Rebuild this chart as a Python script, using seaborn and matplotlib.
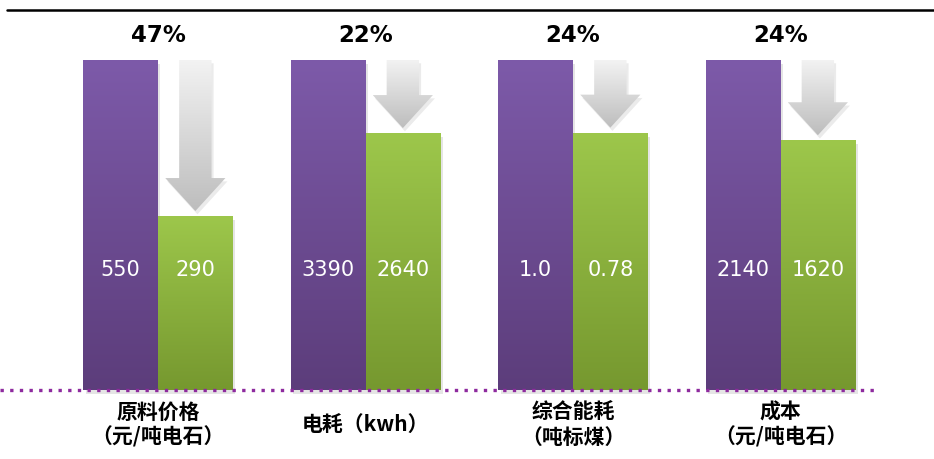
import numpy as np
import pandas as pd
import matplotlib
matplotlib.use("Agg")
import matplotlib.pyplot as plt
import seaborn as sns
from matplotlib.patches import Polygon
from matplotlib.lines import Line2D
from matplotlib.colors import LinearSegmentedColormap

# ---- data ----
categories = ["原料价格\n（元/吨电石）", "电耗（kwh）", "综合能耗\n（吨标煤）", "成本\n（元/吨电石）"]
before_vals = [550, 3390, 1.0, 2140]
after_vals = [290, 2640, 0.78, 1620]
before_labels = ["550", "3390", "1.0", "2140"]
after_labels = ["290", "2640", "0.78", "1620"]
drop_labels = ["47%", "22%", "24%", "24%"]
series = ["改造前", "改造后"]

rows = []
for c, b, a in zip(categories, before_vals, after_vals):
    rows.append({"cat": c, "series": series[0], "rel": 1.0})
    rows.append({"cat": c, "series": series[1], "rel": a / b})
df = pd.DataFrame(rows)

sns.set_theme(style="white")
plt.rcParams["font.family"] = ["Noto Sans CJK SC", "DejaVu Sans"]

W, H = 934, 459
fig = plt.figure(figsize=(W / 100, H / 100), dpi=100)
ax = fig.add_axes([0, 0, 1, 1])

sns.barplot(data=df, x="cat", y="rel", hue="series", order=categories,
            hue_order=series, palette=["#6E4D95", "#8AB040"], width=0.72,
            saturation=1, dodge=True, legend=False, ax=ax, zorder=3)

x0_px, step_px, base_px, top_px = 158, 207.5, 390, 60
unit = base_px - top_px
ax.set_xlim(-x0_px / step_px, (W - x0_px) / step_px)
ax.set_ylim(-(H - base_px) / unit, base_px / unit)
ax.axis("off")

grad = np.linspace(1, 0, 256).reshape(-1, 1)
purple_cmap = LinearSegmentedColormap.from_list("p", ["#5C3D7B", "#7D5AA9"])
green_cmap = LinearSegmentedColormap.from_list("g", ["#76982F", "#9DC74B"])
grey_cmap = LinearSegmentedColormap.from_list("a", ["#BDBDBD", "#F3F3F3"])

bars = [p for p in ax.patches if p.get_height() > 0]
for p in bars:
    x, w, h = p.get_x(), p.get_width(), p.get_height()
    cmap = purple_cmap if p.get_facecolor()[1] < 0.5 else green_cmap
    # soft shadow
    ax.add_patch(plt.Rectangle((x + 0.012, -0.012), w, h, color="#000000",
                               alpha=0.10, lw=0, zorder=2))
    im = ax.imshow(grad, extent=(x, x + w, 0, h), cmap=cmap, aspect="auto",
                   zorder=4, interpolation="bicubic")
    im.set_clip_path(p)
    p.set_edgecolor("none")

# value labels inside bars, arrows and drop labels
half = 0.18
for i in range(len(categories)):
    rel = after_vals[i] / before_vals[i]
    ax.text(i - half, 0.364, before_labels[i], color="white", fontsize=15,
            ha="center", va="center", family="DejaVu Sans", zorder=6)
    ax.text(i + half, 0.364, after_labels[i], color="white", fontsize=15,
            ha="center", va="center", family="DejaVu Sans", zorder=6)
    ax.text(i, 1.073, drop_labels[i], color="black", fontsize=16.5,
            fontweight="bold", ha="center", va="center",
            family="DejaVu Sans", zorder=6)

    cx = i + half
    tip = rel + 0.015
    head_base = tip + 0.1
    sw, hw = 0.078, 0.145
    pts = [(cx - sw, 1.0), (cx + sw, 1.0), (cx + sw, head_base),
           (cx + hw, head_base), (cx, tip), (cx - hw, head_base),
           (cx - sw, head_base)]
    shadow = Polygon([(px + 0.01, py - 0.01) for px, py in pts],
                     closed=True, color="black", alpha=0.08, lw=0, zorder=4)
    ax.add_patch(shadow)
    arrow = Polygon(pts, closed=True, facecolor="none", edgecolor="none", zorder=5)
    ax.add_patch(arrow)
    im = ax.imshow(np.linspace(1, 0, 256).reshape(-1, 1),
                   extent=(cx - hw, cx + hw, tip, 1.0), cmap=grey_cmap,
                   aspect="auto", zorder=5, interpolation="bicubic")
    im.set_clip_path(arrow)

# category labels below the baseline
for i, c in enumerate(categories):
    lines = c.split("\n")
    if len(lines) == 1:
        ys = [-(425 - base_px) / unit]
    else:
        ys = [-(412 - base_px) / unit, -(437 - base_px) / unit]
    for txt, y in zip(lines, ys):
        ax.text(i, y, txt, fontsize=15, fontweight="heavy", ha="center",
                va="center", color="black", zorder=6)

# dotted baseline
ax.plot([-x0_px / step_px, (875 - x0_px) / step_px], [0, 0], color="#8E2A9E",
        lw=2.4, linestyle=(0, (1, 1.9)), dash_capstyle="butt", zorder=7)

# rule across the top
fig.add_artist(Line2D([7 / W, 1.0], [1 - 10 / H, 1 - 10 / H], color="black",
                      lw=1.8, transform=fig.transFigure))

fig.savefig("out.png", dpi=100)
